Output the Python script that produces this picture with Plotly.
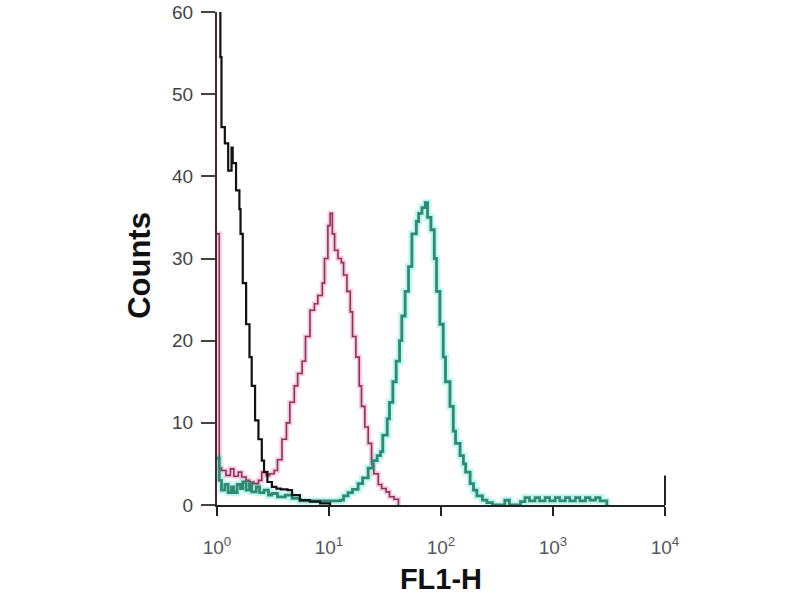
import plotly.graph_objects as go

# FL1-H channel positions in decades (log10 of FL1-H) and counts
ctrl_dec = [0.00, 0.03, 0.04, 0.07, 0.10, 0.13, 0.14, 0.17, 0.20, 0.21, 0.23, 0.26, 0.29, 0.31,
            0.34, 0.37, 0.40, 0.42, 0.45, 0.49, 0.53, 0.57, 0.63, 0.67, 0.74, 0.83, 0.92, 1.01]
ctrl_counts = [65, 54.5, 46, 44, 40.7, 43.5, 41.6, 38.3, 36, 33, 27, 22, 18, 14.5,
               10.3, 8, 5.4, 4, 2.8, 2.2, 2.0, 1.9, 1.8, 1.2, 0.6, 0.4, 0.2, 0]

pink_dec = [0.00, 0.02, 0.04, 0.08, 0.12, 0.15, 0.19, 0.22, 0.26, 0.29, 0.33, 0.37, 0.40, 0.44,
            0.47, 0.51, 0.54, 0.58, 0.62, 0.65, 0.69, 0.72, 0.76, 0.79, 0.83, 0.87, 0.90, 0.94,
            0.96, 0.99, 1.01, 1.03, 1.05, 1.08, 1.11, 1.13, 1.16, 1.19, 1.21, 1.24, 1.27, 1.29,
            1.32, 1.35, 1.38, 1.40, 1.44, 1.47, 1.51, 1.54, 1.58, 1.62]
pink_counts = [33, 4.5, 4.2, 3.6, 4.4, 3.5, 4.0, 3.4, 3.0, 2.8, 2.6, 3.0, 4.0, 3.6,
               3.8, 4.2, 5.5, 8, 10, 12.5, 14.5, 16, 17.5, 20.5, 23.7, 24.5, 25.5, 27,
               30, 34, 35.5, 33, 31, 30, 29.5, 28, 26, 23.5, 20.5, 18, 14.5, 12,
               9.5, 7.5, 5, 3.8, 2.5, 2, 1.6, 1.0, 0.7, 0]

teal_dec = [0.00, 0.02, 0.04, 0.07, 0.10, 0.13, 0.15, 0.18, 0.21, 0.23, 0.26, 0.29, 0.31, 0.35,
            0.38, 0.42, 0.46, 0.49, 0.54, 0.61, 0.67, 0.74, 0.92, 1.10, 1.13, 1.17, 1.21, 1.26,
            1.30, 1.35, 1.39, 1.43, 1.46, 1.48, 1.52, 1.54, 1.57, 1.60, 1.63, 1.65, 1.68, 1.71,
            1.74, 1.78, 1.80, 1.83, 1.86, 1.88, 1.91, 1.94, 1.96, 1.99, 2.02, 2.04, 2.08, 2.11,
            2.13, 2.17, 2.20, 2.22, 2.26, 2.29, 2.32, 2.37, 2.41, 2.46, 2.57, 2.61, 2.71, 2.75,
            2.79, 2.84, 2.88, 2.93, 2.97, 3.02, 3.06, 3.11, 3.15, 3.20, 3.24, 3.29, 3.33, 3.38,
            3.42, 3.48]
teal_counts = [5.7, 3.0, 1.8, 2.5, 1.5, 2.2, 1.5, 2.5, 2.0, 2.8, 1.8, 2.6, 1.6, 2.2,
               1.5, 1.8, 1.2, 1.4, 1.0, 1.2, 0.8, 0.5, 0.5, 0.6, 1.1, 1.5, 1.9, 2.6,
               3.3, 4.5, 5.4, 6.0, 6.5, 8.5, 10.5, 12.5, 15, 17.5, 20, 23, 26, 29,
               33, 34.5, 35.5, 36.2, 36.8, 35, 33.5, 30, 26, 22, 18, 15, 12, 9,
               7.5, 6, 5, 4, 2.6, 1.8, 1.1, 0.6, 0.3, 0, 0.6, 0, 0.4, 0.9,
               0.5, 0.9, 0.5, 0.9, 0.5, 0.9, 0.5, 0.9, 0.5, 0.9, 0.5, 0.9, 0.6, 0.9,
               0.5, 0]

x_tick_vals = [1, 10, 100, 1000, 10000]
x_tick_text = ["10<sup>0</sup>", "10<sup>1</sup>", "10<sup>2</sup>", "10<sup>3</sup>", "10<sup>4</sup>"]
y_tick_vals = [0, 10, 20, 30, 40, 50, 60]


def fl1(decades):
    return [10 ** d for d in decades]


fig = go.Figure()
# soft halos
fig.add_trace(go.Scatter(x=fl1(pink_dec), y=pink_counts, mode="lines", line_shape="hv",
                         line=dict(color="rgba(245,150,195,0.5)", width=5), hoverinfo="skip"))
fig.add_trace(go.Scatter(x=fl1(teal_dec), y=teal_counts, mode="lines", line_shape="hv",
                         line=dict(color="rgba(110,235,225,0.45)", width=7), hoverinfo="skip"))
# main lines
fig.add_trace(go.Scatter(x=fl1(pink_dec), y=pink_counts, mode="lines", line_shape="hv",
                         line=dict(color="#8a3458", width=1.6), name="antibody"))
fig.add_trace(go.Scatter(x=fl1(teal_dec), y=teal_counts, mode="lines", line_shape="hv",
                         line=dict(color="#2e8a70", width=2.8), name="blocked"))
fig.add_trace(go.Scatter(x=fl1(ctrl_dec), y=ctrl_counts, mode="lines", line_shape="hv",
                         line=dict(color="#111111", width=2.2), name="control"))

fig.update_layout(
    width=800, height=600,
    margin=dict(l=217, r=135, t=12, b=95, autoexpand=False),
    paper_bgcolor="white", plot_bgcolor="white",
    showlegend=False,
    font=dict(family="Liberation Sans, Arial, sans-serif", color="#444444"),
    xaxis=dict(
        type="log", range=[0, 4], automargin=False,
        tickvals=x_tick_vals, ticktext=x_tick_text,
        ticks="outside", ticklen=9, tickwidth=2, tickcolor="#222222",
        showline=True, linecolor="#222222", linewidth=2,
        showgrid=False, zeroline=False,
        tickfont=dict(size=19, color="#555555"),
        ticklabelstandoff=15,
        title=dict(text="<b>FL1-H</b>", font=dict(size=29, color="#111111"), standoff=12),
    ),
    yaxis=dict(
        range=[0, 60], automargin=False,
        tickvals=y_tick_vals,
        ticks="outside", ticklen=14, tickwidth=2, tickcolor="#444444",
        showline=True, linecolor="#4a2535", linewidth=2,
        showgrid=False, zeroline=False,
        tickfont=dict(size=19, color="#444444"),
        ticklabelstandoff=4, ticklabeloverflow="allow",
    ),
    annotations=[dict(
        text="<b>Counts</b>", textangle=-90, showarrow=False,
        xref="paper", yref="paper", x=-0.172, y=0.487,
        xanchor="center", yanchor="middle",
        font=dict(size=31, color="#111111"),
    )],
)

# end tick crossing the x axis at the right edge
fig.add_shape(type="line", xref="paper", yref="paper", x0=1, x1=1, y0=0, y1=0.06,
              line=dict(color="#222222", width=2))

fig.write_html("out.html", config={"displayModeBar": False},
               post_script="document.body.style.margin='0';")
